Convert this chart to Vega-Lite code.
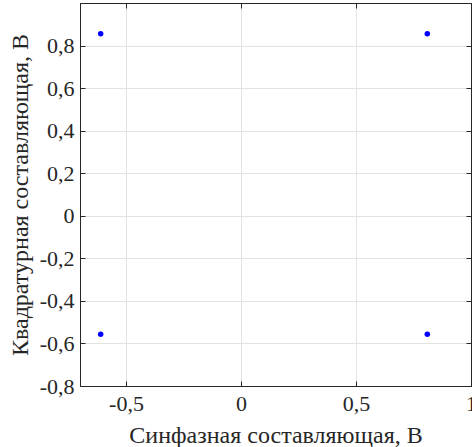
{
  "$schema": "https://vega.github.io/schema/vega-lite/v6.json",
  "width": 391,
  "height": 383,
  "autosize": "none",
  "padding": {"left": 80, "top": 3, "right": 1, "bottom": 61},
  "background": "white",
  "config": {
    "locale": {"number": {"decimal": ",", "thousands": " ", "grouping": [3], "currency": ["", ""], "minus": "-"}},
    "font": "Liberation Serif",
    "view": {"stroke": "#262626", "strokeWidth": 1},
    "axis": {
      "labelFont": "Liberation Serif",
      "titleFont": "Liberation Serif",
      "labelFontSize": 22,
      "titleFontSize": 24,
      "titleFontWeight": "normal",
      "labelColor": "#262626",
      "titleColor": "#262626",
      "domainColor": "#262626",
      "tickColor": "#262626",
      "gridColor": "#e3e3e3",
      "tickSize": -5
    }
  },
  "data": {"values": [
    {"I": -0.61, "Q": 0.855},
    {"I": 0.81, "Q": 0.855},
    {"I": -0.61, "Q": -0.557},
    {"I": 0.81, "Q": -0.557}
  ]},
  "layer": [
    {
      "mark": {"type": "point", "filled": true, "color": "#0000ff", "opacity": 1, "size": 30},
      "encoding": {
        "x": {"field": "I", "type": "quantitative",
          "scale": {"domain": [-0.7, 1], "nice": false, "zero": false},
          "axis": {"values": [-0.5, 0, 0.5, 1], "format": "~g", "title": "Синфазная составляющая, В", "labelPadding": 12, "titlePadding": 9, "labelFlush": false}},
        "y": {"field": "Q", "type": "quantitative",
          "scale": {"domain": [-0.8, 1], "nice": false, "zero": false},
          "axis": {"values": [-0.8, -0.6, -0.4, -0.2, 0, 0.2, 0.4, 0.6, 0.8], "format": "~g", "title": "Квадратурная составляющая, В", "labelPadding": 11, "titlePadding": 7, "labelFlush": false}}
      }
    },
    {
      "mark": {"type": "point", "opacity": 0},
      "encoding": {
        "x": {"field": "I", "type": "quantitative",
          "scale": {"domain": [-0.7, 1], "nice": false, "zero": false},
          "axis": {"orient": "top", "values": [-0.5, 0, 0.5, 1], "labels": false, "grid": false, "title": null}},
        "y": {"field": "Q", "type": "quantitative",
          "scale": {"domain": [-0.8, 1], "nice": false, "zero": false},
          "axis": {"orient": "right", "values": [-0.8, -0.6, -0.4, -0.2, 0, 0.2, 0.4, 0.6, 0.8], "labels": false, "grid": false, "title": null}}
      }
    }
  ],
  "resolve": {"axis": {"x": "independent", "y": "independent"}}
}
